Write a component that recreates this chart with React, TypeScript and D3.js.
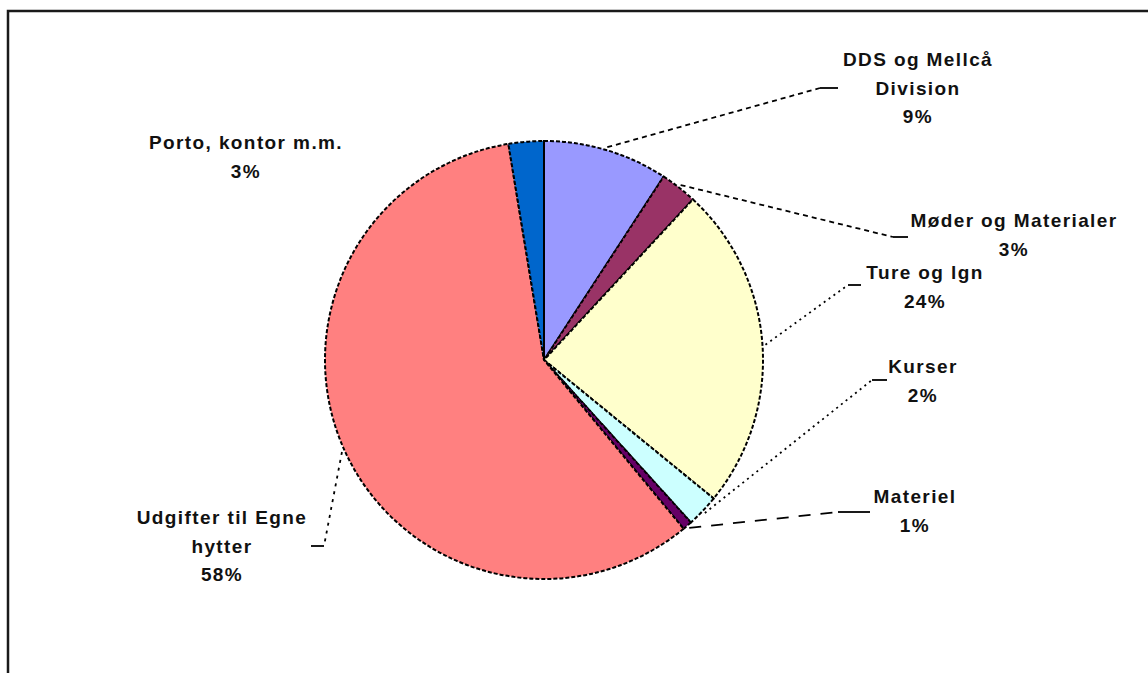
import React from 'react';
import * as d3 from 'd3';

// slice order, clockwise from 12 o'clock
const categories = [
  'DDS og Mellcå Division',
  'Møder og Materialer',
  'Ture og lgn',
  'Kurser',
  'Materiel',
  'Udgifter til Egne hytter',
  'Porto, kontor m.m.',
];
const values = [9.2, 2.7, 24.0, 2.4, 0.7, 58.4, 2.6];
const colors = ['#9999FF', '#993366', '#FFFFCC', '#CCFFFF', '#660066', '#FF8080', '#0066CC'];
const labelLines = [
  ['DDS og Mellcå', 'Division'],
  ['Møder og Materialer'],
  ['Ture og lgn'],
  ['Kurser'],
  ['Materiel'],
  ['Udgifter til Egne', 'hytter'],
  ['Porto, kontor m.m.'],
];

// label placement (layout only): elbow of leader line, end of short tick, text centre / first baseline
const labelLayout = [
  { elbow: [820, 88], end: 838, tx: 918, ty: 66, dash: '5,4' },
  { elbow: [893, 237], end: 908, tx: 1014, ty: 227, dash: '5,4' },
  { elbow: [848, 285], end: 861, tx: 925, ty: 279, dash: '2,4' },
  { elbow: [872, 380], end: 887, tx: 923, ty: 373, dash: '2,4' },
  { elbow: [838, 512], end: 870, tx: 915, ty: 503, dash: '12,10' },
  { elbow: [324, 546], end: 311, tx: 222, ty: 524, dash: '3,5' },
  { elbow: null, end: 0, tx: 246, ty: 149, dash: '' },
];

const width = 1148;
const height = 673;
const cx = 544;
const cy = 360;
const radius = 219;
const lineGap = 28.5;

export default function App() {
  const total = d3.sum(values);
  const pie = d3.pie<number>().sort(null).value(d => d);
  const arcs = pie(values);
  const arc = d3.arc<d3.PieArcDatum<number>>().innerRadius(0).outerRadius(radius);

  const pointAt = (angle: number, r: number) => [
    cx + r * Math.sin(angle),
    cy - r * Math.cos(angle),
  ];

  return (
    <svg
      width={width}
      height={height}
      style={{ position: 'fixed', left: 0, top: 0, background: '#fff' }}
      fontFamily="'Liberation Sans', Arial, sans-serif"
    >
      <rect x={8} y={11} width={1300} height={800} fill="#fff" stroke="#1a1a1a" strokeWidth={2.5} />

      <g transform={`translate(${cx},${cy})`}>
        {arcs.map((a, i) => (
          <path
            key={categories[i]}
            d={arc(a) || ''}
            fill={colors[i]}
            stroke="#000"
            strokeWidth={2}
            strokeDasharray="4,2"
          />
        ))}
        <line x1={0} y1={0} x2={0} y2={-radius} stroke="#000" strokeWidth={2} />
      </g>

      {arcs.map((a, i) => {
        const lay = labelLayout[i];
        if (!lay.elbow) return null;
        const mid = (a.startAngle + a.endAngle) / 2;
        const [sx, sy] = pointAt(mid, radius + 3);
        const [ex, ey] = lay.elbow;
        return (
          <g key={'lead' + i} fill="none" stroke="#000" strokeWidth={1.8}>
            <line x1={sx} y1={sy} x2={ex} y2={ey} strokeDasharray={lay.dash} />
            <line x1={ex} y1={ey} x2={lay.end} y2={ey} />
          </g>
        );
      })}

      {arcs.map((a, i) => {
        const lay = labelLayout[i];
        const lines = [...labelLines[i], Math.round((values[i] / total) * 100) + '%'];
        return (
          <text
            key={'lab' + i}
            x={lay.tx}
            y={lay.ty}
            textAnchor="middle"
            fontSize={19}
            fontWeight="bold"
            letterSpacing={1.4}
            fill="#111"
          >
            {lines.map((t, j) => (
              <tspan key={j} x={lay.tx} y={lay.ty + j * lineGap}>
                {t}
              </tspan>
            ))}
          </text>
        );
      })}
    </svg>
  );
}
